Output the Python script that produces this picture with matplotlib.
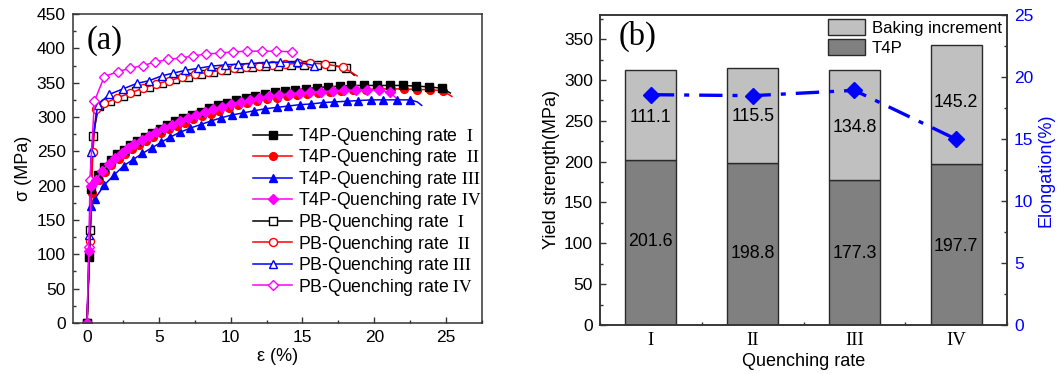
import matplotlib
matplotlib.use('Agg')
import matplotlib.pyplot as plt
from matplotlib.ticker import MultipleLocator

plt.rcParams['font.family'] = ['Liberation Sans', 'DejaVu Sans']
plt.rcParams['mathtext.fontset'] = 'stix'

# ---------------- (a) stress-strain data ----------------
t4p1_x = [0, 0.15, 0.3, 0.75, 1.2, 1.65, 2.1, 2.55, 3.0, 3.5, 4.0, 4.5, 5.05, 5.6, 6.15, 6.7, 7.3, 7.9, 8.5, 9.1,
          9.75, 10.4, 11.05, 11.7, 12.4, 13.1, 13.8, 14.5, 15.25, 16.0, 16.8, 17.6, 18.4, 19.3, 20.2, 21.1, 22.0,
          22.9, 23.8, 24.7, 25.3]
t4p1_y = [0, 96, 195, 215, 227, 237, 246, 252, 259, 265, 271, 277, 283, 289, 294, 298, 303, 308, 313, 317,
          321, 325, 328, 331, 334, 336, 338, 340, 341, 343, 344, 345, 346, 346, 346, 346, 346,
          345, 344, 342, 335]

t4p2_x = [0, 0.15, 0.35, 0.8, 1.25, 1.7, 2.2, 2.65, 3.1, 3.6, 4.1, 4.6, 5.15, 5.7, 6.25, 6.8, 7.4, 8.0, 8.6, 9.2,
          9.85, 10.5, 11.15, 11.8, 12.5, 13.2, 13.9, 14.6, 15.35, 16.1, 16.9, 17.7, 18.5, 19.4, 20.3, 21.2, 22.1,
          23.0, 23.9, 24.8, 25.4]
t4p2_y = [0, 100, 190, 208, 220, 230, 239, 246, 253, 259, 265, 271, 277, 282, 287, 292, 297, 301, 305, 309,
          313, 317, 320, 323, 326, 328, 330, 332, 334, 335, 337, 338, 339, 340, 341, 341, 341,
          340, 340, 338, 330]

t4p3_x = [0, 0.15, 0.3, 0.55, 1.2, 1.9, 2.55, 3.2, 3.85, 4.5, 5.15, 5.8, 6.5, 7.2, 7.9, 8.6, 9.35, 10.1, 10.85,
          11.6, 12.4, 13.2, 14.0, 14.8, 15.6, 16.4, 17.2, 18.1, 18.9, 19.8, 20.6, 21.6, 22.5, 23.0, 23.3]
t4p3_y = [0, 97, 170, 181, 201, 216, 229, 238, 247, 255, 263, 271, 278, 284, 289, 294, 299, 303, 306,
          309, 312, 314, 316, 318, 319, 321, 322, 323, 324, 325, 325, 325, 325, 322, 317]

t4p4_x = [0, 0.12, 0.3, 0.6, 1.05, 1.5, 1.95, 2.4, 2.85, 3.3, 3.8, 4.3, 4.8, 5.35, 5.9, 6.45, 7.0, 7.6, 8.2, 8.8,
          9.4, 10.05, 10.7, 11.35, 12.0, 12.7, 13.4, 14.1, 14.8, 15.55, 16.3, 17.1, 17.9, 18.7, 19.5, 20.3,
          21.1, 21.5]
t4p4_y = [0, 105, 200, 208, 222, 232, 241, 248, 255, 261, 267, 273, 278, 284, 289, 294, 298, 303, 307, 311,
          315, 319, 322, 325, 328, 330, 332, 334, 335, 336, 337, 338, 339, 339, 340, 339,
          336, 328]

pb1_x = [0, 0.2, 0.42, 0.8, 1.6, 2.5, 3.4, 4.3, 5.2, 6.1, 7.0, 7.9, 8.8, 9.7, 10.6, 11.5, 12.4, 13.3, 14.2,
         15.1, 16.0, 17.0, 18.0, 18.6]
pb1_y = [0, 135, 272, 316, 323, 331, 338, 344, 350, 355, 359, 363, 366, 369, 371, 373, 374, 375, 376,
         376, 376, 375, 372, 361]

pb2_x = [0, 0.2, 0.4, 0.65, 1.2, 2.1, 3.0, 3.9, 4.8, 5.7, 6.6, 7.5, 8.4, 9.3, 10.2, 11.1, 12.0, 12.9, 13.8,
         14.7, 15.5, 16.6, 17.8, 18.8]
pb2_y = [0, 120, 249, 312, 320, 328, 335, 342, 348, 353, 358, 362, 365, 368, 371, 373, 375, 376, 377,
         378, 379, 377, 373, 360]

pb3_x = [0, 0.16, 0.28, 0.74, 1.55, 2.5, 3.47, 4.33, 5.2, 6.0, 6.85, 7.75, 8.6, 9.58, 10.5, 11.45, 12.47,
         13.47, 14.6, 15.8]
pb3_y = [0, 128, 249, 318, 333, 341, 349, 353, 360, 364, 368, 371, 374, 376, 377, 378, 379,
         380, 380, 375]

pb4_x = [0, 0.13, 0.2, 0.51, 1.2, 2.13, 2.99, 3.87, 4.75, 5.65, 6.53, 7.41, 8.31, 9.24, 10.16, 11.16, 12.15,
         13.17, 14.28]
pb4_y = [0, 111, 208, 323, 359, 366, 371, 375, 380, 384, 386, 389, 392, 393, 395, 396, 396,
         396, 395]

series_labels = [r'T4P-Quenching rate  $\mathrm{I}$', r'T4P-Quenching rate  $\mathrm{II}$',
                 r'T4P-Quenching rate $\mathrm{III}$', r'T4P-Quenching rate $\mathrm{IV}$',
                 r'PB-Quenching rate  $\mathrm{I}$', r'PB-Quenching rate  $\mathrm{II}$',
                 r'PB-Quenching rate $\mathrm{III}$', r'PB-Quenching rate $\mathrm{IV}$']

# ---------------- (b) yield strength / elongation ----------------
rates = ['I', 'II', 'III', 'IV']
t4p_ys = [201.6, 198.8, 177.3, 197.7]
baking_inc = [111.1, 115.5, 134.8, 145.2]
elongation = [18.55, 18.47, 18.9, 14.96]
t4p_label_y = [102, 88, 87, 96]
bake_label_y = [254, 255, 242, 272]

# ---------------- figure ----------------
fig = plt.figure(figsize=(10.63, 3.74), dpi=100)
spc = '#333333'

ax1 = fig.add_axes([0.0684, 0.1364, 0.385, 0.826])
styles = [
    ('black', 's', True, 1), ('red', 'o', True, 1), ('blue', '^', True, 2), ('magenta', 'D', True, 1),
    ('black', 's', False, 1), ('red', 'o', False, 1), ('blue', '^', False, 0), ('magenta', 'D', False, 0),
]
data = [(t4p1_x, t4p1_y), (t4p2_x, t4p2_y), (t4p3_x, t4p3_y), (t4p4_x, t4p4_y),
        (pb1_x, pb1_y), (pb2_x, pb2_y), (pb3_x, pb3_y), (pb4_x, pb4_y)]
handles = [None] * 8
for i in [4, 5, 6, 7, 2, 1, 0, 3]:
    (xs, ys) = data[i]
    col, mk, filled, skip = styles[i]
    ms = 5.6 if filled else 5.8
    if mk == 'D':
        ms -= 0.4
    ln, = ax1.plot(xs, ys, color=col, lw=1.1, marker=mk, ms=ms,
                   mfc=col if filled else 'white', mec=col, mew=1.0,
                   markevery=slice(0, len(xs) - skip), label=series_labels[i])
    handles[i] = ln

ax1.set_xlim(-1, 27.5)
ax1.set_ylim(0, 450)
ax1.xaxis.set_major_locator(MultipleLocator(5))
ax1.xaxis.set_minor_locator(MultipleLocator(2.5))
ax1.yaxis.set_major_locator(MultipleLocator(50))
ax1.yaxis.set_minor_locator(MultipleLocator(25))
ax1.tick_params(which='both', direction='in', top=False, right=False, color=spc, labelsize=12.5)
ax1.tick_params(which='major', length=4, width=1.0, pad=5)
ax1.tick_params(which='minor', length=2.4, width=1.0)
for s in ax1.spines.values():
    s.set_color(spc)
    s.set_linewidth(1.1)
ax1.set_xlabel('ε (%)', fontsize=13, labelpad=2)
ax1.set_ylabel('σ (MPa)', fontsize=13, labelpad=3)
ax1.text(0.033, 0.915, '(a)', transform=ax1.transAxes, fontsize=23.5,
         family='Liberation Serif', va='center', ha='left')
leg = ax1.legend(handles=handles, loc='upper left', bbox_to_anchor=(0.44, 0.638),
                 frameon=False, fontsize=12.7, handlelength=2.25, handletextpad=0.3,
                 labelspacing=0.03, borderpad=0, borderaxespad=0)

# ---------------- (b) ----------------
ax2 = fig.add_axes([0.5644, 0.131, 0.383, 0.830])
pos = list(range(1, len(rates) + 1))
b1 = ax2.bar(pos, t4p_ys, width=0.5, color='#808080', edgecolor='#2a2a2a', lw=1.0, label='T4P', zorder=2)
b2 = ax2.bar(pos, baking_inc, width=0.5, bottom=t4p_ys, color='#c0c0c0', edgecolor='#2a2a2a', lw=1.0,
             label='Baking increment', zorder=2)
for p, v, yy in zip(pos, t4p_ys, t4p_label_y):
    ax2.text(p, yy, f'{v:.1f}', ha='center', va='center', fontsize=12.8, zorder=3)
for p, v, yy in zip(pos, baking_inc, bake_label_y):
    ax2.text(p, yy, f'{v:.1f}', ha='center', va='center', fontsize=12.8, zorder=3)
ax2.set_xlim(0.5, 4.5)
ax2.set_ylim(0, 380)
ax2.set_xticks(pos)
ax2.set_xticklabels(rates, family='Liberation Serif', fontsize=13.5)
ax2.xaxis.set_minor_locator(MultipleLocator(0.5))
ax2.yaxis.set_major_locator(MultipleLocator(50))
ax2.yaxis.set_minor_locator(MultipleLocator(25))
ax2.tick_params(which='both', direction='in', top=False, right=False, color=spc, labelsize=12.5)
ax2.tick_params(axis='x', labelsize=13.5)
ax2.tick_params(which='major', length=4, width=1.0, pad=5)
ax2.tick_params(which='minor', length=2.4, width=1.0)
ax2.set_xlabel('Quenching rate', fontsize=13, labelpad=3)
ax2.set_ylabel('Yield strength(MPa)', fontsize=13, labelpad=3)
for s in ax2.spines.values():
    s.set_color(spc)
    s.set_linewidth(1.1)
ax2.text(0.045, 0.93, '(b)', transform=ax2.transAxes, fontsize=23.5,
         family='Liberation Serif', va='center', ha='left')
ax2.legend(handles=[b2, b1], loc='upper left', bbox_to_anchor=(0.561, 0.985), frameon=False,
           fontsize=12.1, handlelength=2.2, handleheight=1.05, handletextpad=0.38,
           labelspacing=0.22, borderpad=0, borderaxespad=0)

ax3 = ax2.twinx()
ax3.plot(pos, elongation, color='blue', lw=2.4, ls=(0, (7, 3, 1.5, 3)), marker='D', ms=8.5,
         mfc='blue', mec='blue', zorder=4)
ax3.set_ylim(0, 25)
ax3.yaxis.set_major_locator(MultipleLocator(5))
ax3.yaxis.set_minor_locator(MultipleLocator(2.5))
ax3.tick_params(which='both', direction='in', color=spc, labelcolor='blue', labelsize=12.5)
ax3.tick_params(which='major', length=4, width=1.0, pad=5)
ax3.tick_params(which='minor', length=2.4, width=1.0)
ax3.set_ylabel('Elongation(%)', color='blue', fontsize=13, labelpad=3)
for s in ax3.spines.values():
    s.set_color(spc)
    s.set_linewidth(1.1)

fig.savefig('out.png', dpi=100)
